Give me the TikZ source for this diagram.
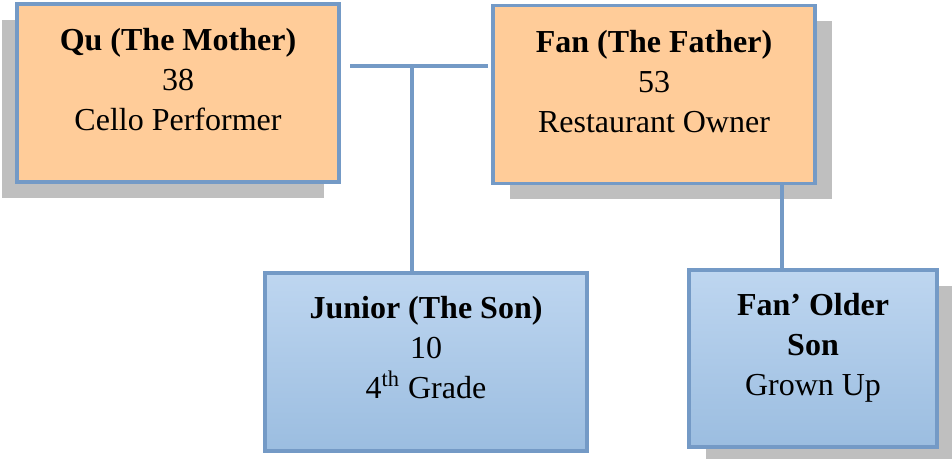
\documentclass[tikz,border=0pt]{standalone}
\usepackage{fontspec}
\setmainfont{Liberation Serif}
\usetikzlibrary{shadows}
\definecolor{parentfill}{RGB}{255,204,153}
\definecolor{sontop}{RGB}{190,214,240}
\definecolor{sonbottom}{RGB}{155,189,224}
\definecolor{framecol}{RGB}{116,154,198}
\definecolor{shadowgray}{RGB}{191,191,191}

\begin{document}
\begin{tikzpicture}[
			x=0.5pt, y=-0.5pt,
			person/.style={draw=framecol, line width=1.6pt, minimum width=161pt, minimum height=89pt, inner sep=0pt},
			parent/.style={person, fill=parentfill},
			kid/.style={person, top color=sontop, bottom color=sonbottom},
			shadowleft/.style={general shadow={shadow xshift=-7.5pt, shadow yshift=-8pt, fill=shadowgray}},
			shadowright/.style={general shadow={shadow xshift=8.5pt, shadow yshift=-8pt, fill=shadowgray}},
			caption/.style={anchor=north, align=center, inner sep=0pt, font=\fontsize{16}{20}\selectfont},
			link/.style={draw=framecol, line width=1.6pt}
		]
		\useasboundingbox (0,0) rectangle (952,459);
		\node[parent, shadowleft] (mother) at (178,93) {};
		\node[parent, shadowright] (father) at (654,94.5) {};
		\node[kid] (junior) at (426,362) {};
		\node[kid, shadowright, minimum width=124pt, minimum height=88.5pt] (older) at (813,358.5) {};

		\node[caption, yshift=-12.9pt] (mothertext) at (mother.north) {\textbf{Qu (The Mother)}\\38\\Cello Performer};
		\node[caption, yshift=-12.9pt] (fathertext) at (father.north) {\textbf{Fan (The Father)}\\53\\Restaurant Owner};
		\node[caption, yshift=-12.4pt] (juniortext) at (junior.north) {\textbf{Junior (The Son)}\\10\\4\textsuperscript{th} Grade};
		\node[caption, yshift=-12pt] (oldertext) at (older.north) {\textbf{Fan’ Older}\\\textbf{Son}\\Grown Up};

		\coordinate (coupleleft) at (350,66);
		\coordinate (coupleright) at (488,66);
		\coordinate (couple) at (412,66);
		\coordinate (fatherdrop) at (782,0);
		\draw[link] (coupleleft) -- (coupleright);
		\draw[link] (couple) -- (couple |- junior.north);
		\draw[link] (father.south -| fatherdrop) -- (older.north -| fatherdrop);
	\end{tikzpicture}
\end{document}
